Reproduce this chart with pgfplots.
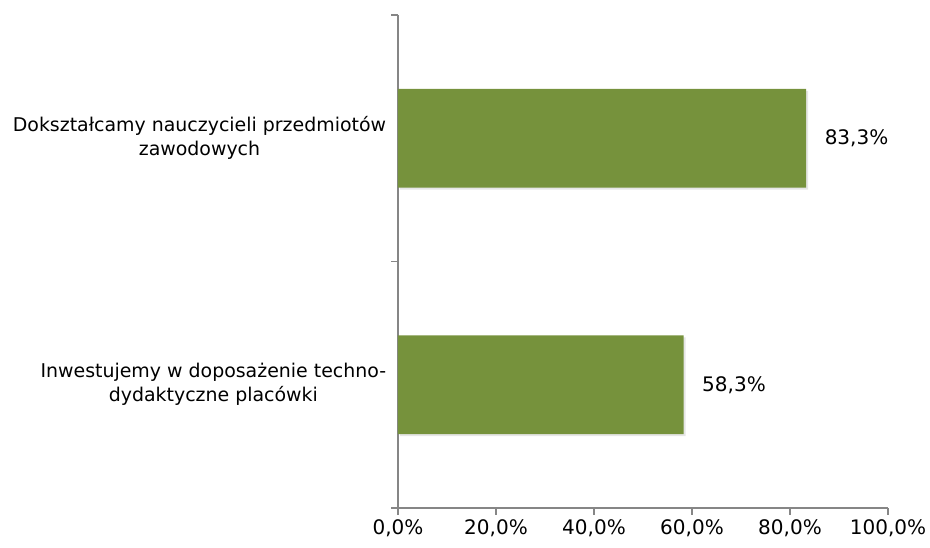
\documentclass[border=0pt]{standalone}
\usepackage{pgfplots}
\pgfplotsset{compat=1.18}
\usetikzlibrary{shadows}
\usepackage{fontspec}
\setmainfont{DejaVu Sans}
\definecolor{barg}{HTML}{76923C}
\definecolor{axg}{HTML}{868686}
\begin{document}
\fontsize{14.2pt}{18pt}\selectfont
\begin{tikzpicture}
\path[use as bounding box] (-298.5pt,-30pt) rectangle (399pt,381pt);
\begin{axis}[
  scale only axis,
  width=367.5pt, height=369.75pt,
  xmin=0, xmax=100, ymin=-0.5, ymax=1.5,
  axis lines=left,
  axis line style={-, axg, line width=1.4pt},
  tick style={axg, line width=1.4pt},
  tick align=outside,
  major tick length=5pt,
  xtick={0,20,40,60,80,100},
  xticklabels={{0,0\%},{20,0\%},{40,0\%},{60,0\%},{80,0\%},{100,0\%}},
  ytick={-0.5,0.5,1.5},
  yticklabels={},
  extra y ticks={0,1},
  extra y tick labels={{Inwestujemy w doposażenie techno-\\dydaktyczne placówki},{Dokształcamy nauczycieli przedmiotów\\zawodowych}},
  extra y tick style={major tick length=0pt, tick style={draw=none}},
  yticklabel style={align=center, font=\fontsize{14.2pt}{18pt}\selectfont, xshift=-4pt},
  xticklabel style={font=\fontsize{15pt}{18pt}\selectfont, yshift=1pt},
  xbar,
  bar width=0.4,
  point meta=explicit symbolic,
  nodes near coords,
  nodes near coords style={font=\fontsize{15pt}{18pt}\selectfont, anchor=west, xshift=9pt, text=black},
  clip=false,
]
\addplot[fill=barg, draw=none, drop shadow={shadow xshift=1.5pt, shadow yshift=-1.5pt, opacity=0.2, fill=gray}] coordinates {(58.3,0) [58,3\%] (83.3,1) [83,3\%]};
\end{axis}
\end{tikzpicture}
\end{document}
